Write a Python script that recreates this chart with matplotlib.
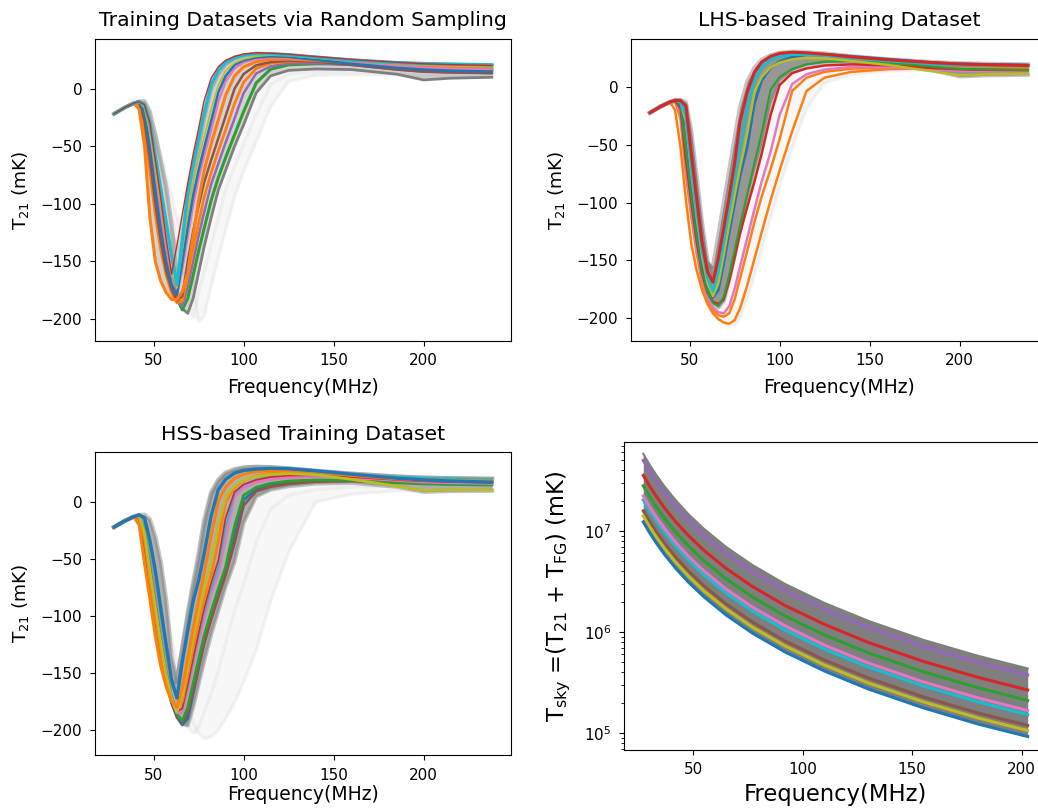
import numpy as np
import matplotlib.pyplot as plt

# frequency grid (MHz) shared by the three T21 panels
freq = [28, 34, 39, 42, 45, 48, 51, 54, 57, 60, 63, 66, 69, 72, 75, 78, 82, 86,
        90, 95, 100, 107, 115, 125, 140, 160, 185, 200, 215, 238]

# ---- Training Datasets via Random Sampling (mK) ----
rs_red = [-22, -16.5, -12.8, -11.3, -14, -30, -62, -95, -130, -161, -136, -109, -82, -57, -35, -11, 9, 19, 24.5, 28, 30, 31, 30.7, 29.8, 27.8, 25.3, 22.8, 21.5, 20.8, 20]
rs_cyan = [-22, -16.5, -12.8, -11.3, -13.8, -29.5, -58, -87, -116, -145, -170, -131, -91, -66, -44, -22, 3.3, 16, 22.5, 26.8, 29, 30.5, 30.3, 29.3, 27.3, 24.8, 22.5, 21.7, 21.2, 20.6]
rs_olive = [-22, -16.5, -12.8, -11.2, -17, -38, -69, -100, -132, -160, -173, -140, -108, -81, -61, -43, -18, 3, 15.3, 22.3, 25.5, 28, 29, 28.5, 26.5, 24, 21.5, 20.5, 19.8, 19.2]
rs_blue = [-22, -16.5, -12.8, -11.1, -22, -52, -88, -122, -150, -170, -179, -150, -120, -93, -71, -52, -28, -3, 10.8, 20.5, 24.5, 27, 28, 27.5, 25, 21.5, 18, 16.5, 15.5, 14.7]
rs_pink = [-22, -16.5, -12.8, -11.2, -20, -45, -78, -111, -142, -166, -179, -156, -128, -101, -78, -59, -36, -11, 6.2, 17.5, 22.7, 25.8, 27, 26.8, 25, 22.5, 19.5, 18, 17.3, 16.5]
rs_orange_a = [-22, -16.5, -12.2, -18, -50, -112, -150, -167, -177, -183, -183, -176, -160, -128, -97, -72, -48, -27, -6, 11, 18.8, 23.3, 25.3, 25.5, 24.5, 22.5, 20.5, 19.3, 18.5, 17.7]
rs_brown = [-22, -16.5, -12.8, -12, -28, -62, -100, -132, -158, -174, -184, -180, -150, -124, -102, -82, -62, -43, -24, 0, 12.6, 20.2, 23, 24, 23.3, 20.5, 16.5, 14.8, 14, 13.3]
rs_orange_b = [-22, -16.5, -12.8, -13, -35, -72, -110, -140, -162, -177, -186, -184, -162, -139, -117, -95, -73, -54, -36, -13, 5.4, 17.3, 22, 23.5, 23.3, 21.5, 19, 18.2, 17.6, 17]
rs_purple = [-22, -16.5, -12.8, -12, -22, -48, -82, -116, -146, -168, -182, -189, -172, -150, -128, -108, -83, -65, -47, -26, -4, 13.1, 19.3, 21.8, 22, 20.5, 16.5, 14.5, 14, 13.5]
rs_green = [-22, -16.5, -12.8, -11.5, -20, -44, -77, -110, -140, -165, -182, -192, -182, -162, -141, -122, -97, -77, -60, -40, -20, 4.9, 16.8, 20.6, 21.5, 21.3, 18.5, 16.5, 16.2, 16]
rs_gray = [-22, -16.5, -12.8, -11.2, -19, -42, -74, -106, -136, -162, -180, -191, -195, -182, -160, -138, -112, -88, -71, -50, -31.5, -3.7, 11, 15.8, 17, 16.5, 12.5, 7.5, 9, 9.8]
rs_band = [-22, -16.5, -12.8, -11.2, -11, -20, -40, -62, -85, -118, -168, -150, -108, -76, -50, -26, 0, 13, 21, 26, 28.5, 30, 29.7, 28.8, 26.8, 24.3, 22, 21, 20.6, 20.2]
rs_faint1 = [-22, -16.5, -12.8, -11.3, -13, -27.5, -47.7, -68.9, -90, -111, -132.6, -154, -175, -199, -177, -159.5, -136, -112, -88, -67.5, -48.3, -22.5, 3.4, 12.6, 14.7, 15, 13.5, 11, 11.5, 12]
rs_faint2 = [-22, -16.5, -12.8, -11.3, -11.5, -22, -39, -57, -75.3, -93.4, -111.5, -129.7, -148, -166, -202, -198, -172, -146.7, -123, -94, -72.2, -46.2, -15.7, 6.3, 11.5, 12, 11.8, 11, 11.2, 11.5]

# ---- LHS-based Training Dataset (mK) ----
lhs_red_l = [-22, -16.5, -12.8, -11.3, -11.5, -16, -58, -97, -135, -160, -169, -148, -122, -95, -66, -30, -4, 13, 22, 27, 29.5, 30.5, 30, 28.8, 26.5, 24, 21.5, 20.3, 19.7, 19]
lhs_cyan = [-22, -16.5, -12.8, -11.2, -12.5, -25, -70, -108, -142, -165, -177, -160, -134, -107, -80, -52, -18, 6, 17.5, 24, 27, 28.5, 28.5, 27.8, 25.5, 23, 20.5, 19.5, 19, 18.5]
lhs_olive = [-22, -16.5, -12.8, -11.2, -13, -30, -75, -113, -147, -170, -181, -170, -145, -119, -94, -70, -40, -4, 9, 17.5, 21.5, 24.3, 25.5, 25.3, 23, 19.5, 14, 10.5, 11.3, 12]
lhs_blue = [-22, -16.5, -12.8, -11.2, -14, -35, -80, -118, -151, -172, -182, -176, -152, -126, -101, -77, -52, -14, 6, 17, 22.5, 26.3, 28.5, 28.8, 27, 24.5, 21.5, 20.5, 20, 19.5]
lhs_green = [-22, -16.5, -12.8, -11.5, -16, -55, -95, -130, -160, -178, -187, -189.5, -182, -163, -142, -120, -93, -66, -40, -2, 9, 16, 20, 22.3, 23, 21.5, 18, 16, 15.5, 15]
lhs_red_r = [-22, -16.5, -12.8, -11.7, -18, -63, -100, -134, -162, -178, -186, -188, -184, -168, -148, -127, -104, -82, -58, -24, 2, 12.5, 16.5, 19, 20, 19.2, 16.8, 15.8, 15.3, 15]
lhs_pink = [-22, -16.5, -12.8, -12, -22, -70, -107, -140, -166, -182, -191, -195, -196, -190, -175, -156, -131, -106, -82, -56, -24, 3, 11.5, 15.5, 17.8, 17.5, 15.5, 14.5, 14.2, 14]
lhs_orange_m = [-22, -16.5, -12.8, -12.5, -27, -76, -112, -144, -169, -184, -193, -197.5, -199, -196, -184, -166, -142, -117, -95, -71, -45, -3, 8.5, 13.5, 16.3, 17, 16.2, 15.7, 15.6, 15.5]
lhs_orange_f = [-22, -16.5, -12.2, -20, -52, -98, -136, -159, -176, -188, -196, -201, -204, -205, -202, -192, -172, -149, -126, -98, -72, -38, -3, 8.5, 13.5, 15.8, 16.5, 16.5, 16.5, 16.5]
lhs_band_l = [-22, -16.5, -12.8, -11.2, -11, -15, -50, -90, -128, -158, -155, -128, -100, -72, -44, -17, 5, 17, 24, 28, 30, 31, 30.5, 29.5, 27, 24.5, 22, 21, 20.5, 20]
lhs_band_d = [-22, -16.5, -12.8, -11.2, -11, -13, -38, -78, -118, -150, -168, -160, -134, -107, -80, -52, -18, 6, 17.5, 24, 27, 28.5, 28.5, 27.8, 25.5, 23, 20.5, 19.5, 19, 18.5]
lhs_band_r = [-22, -16.5, -12.8, -11.5, -17, -60, -98, -132, -161, -178, -188, -191, -185, -167, -146, -124, -97, -72, -50, -14, 6, 15, 19.5, 21.5, 22, 20, 15, 9.5, 10.5, 11]
lhs_faint = [-22, -16.5, -12.8, -13, -45, -90, -130, -155, -173, -186, -195, -201, -205, -207, -206, -200, -184, -163, -141, -113, -86, -52, -18, 4, 11, 14, 15, 15, 15, 15]

# ---- HSS-based Training Dataset (mK) ----
hss_blue = [-22, -16.5, -12.8, -11.3, -14, -34, -60, -93, -125, -156, -172, -140, -113, -87, -69, -46, -12, 11, 20, 25.5, 27.8, 29, 29.6, 29.3, 27.5, 24.5, 21, 19.5, 18.5, 17.5]
hss_orange = [-22, -16.5, -12.7, -20, -54, -85, -118, -144, -162, -175, -180, -163, -137, -111, -86, -63, -30, 1, 13, 21, 24.5, 26.7, 27.8, 28, 26.5, 23.5, 20.5, 19.5, 19, 18.5]
hss_olive = [-22, -16.5, -12.8, -12, -27, -60, -92, -123, -151, -172, -184, -170, -145, -120, -98, -77, -53, -20, 4.5, 14.5, 19.5, 22.5, 24.3, 25, 24, 20, 14, 10.2, 10.8, 11]
hss_orange2 = [-22, -16.5, -12.8, -12.5, -32, -68, -100, -130, -156, -174, -183, -175, -152, -128, -106, -86, -64, -34, 0, 13, 19, 23, 25.5, 26.7, 27, 24.5, 21, 19.5, 18.7, 18]
hss_red = [-22, -16.5, -12.8, -12, -25, -55, -88, -119, -148, -170, -184, -181, -160, -137, -115, -94, -71, -51, -14, 9, 15.5, 19.5, 22, 23.3, 23.5, 22, 19.5, 18.3, 17.6, 17]
hss_pink = [-22, -16.5, -12.8, -12.5, -30, -64, -96, -126, -153, -173, -185, -185, -166, -144, -123, -103, -80, -63, -31, 5, 12.5, 17.5, 20, 21.5, 22.3, 21.5, 19, 17.6, 17, 16.4]
hss_cyan = [-22, -16.5, -12.8, -11.8, -22, -52, -85, -116, -146, -169, -183, -182, -162, -140, -118, -98, -76, -57, -22, 8, 15, 20, 22.5, 24, 25, 24, 22.5, 21.5, 21, 20.5]
hss_green = [-22, -16.5, -12.8, -13, -33, -68, -100, -129, -155, -174, -186, -192, -180, -159, -138, -118, -96, -76, -57, -21, 6, 13, 16.5, 18.5, 19.5, 19.2, 17, 16, 15.5, 15]
hss_brown = [-22, -16.5, -12.8, -13.5, -38, -72, -103, -132, -158, -176, -188, -194, -186, -166, -145, -125, -103, -83, -64, -36, -3, 9.5, 13.5, 16, 18, 18.5, 17.5, 16.8, 16.3, 16]
hss_blue_d = [-22, -16.5, -12.8, -13, -35, -70, -102, -131, -157, -176, -189, -195.5, -190, -168, -146, -124, -100, -79, -60, -30, 2, 11, 15, 17.5, 19, 19, 18, 17.3, 17, 16.7]
hss_band_d = [-22, -16.5, -12.8, -11.2, -11, -15, -30, -52, -85, -135, -158, -127, -97, -70, -45, -16, 9, 20, 26, 29, 30.5, 31, 30.7, 29.7, 27.5, 25, 22.5, 21.5, 21, 20.5]
hss_band_l = [-22, -16.5, -12.8, -11.3, -14, -38, -70, -102, -133, -163, -155, -128, -101, -75, -52, -22, 6, 18, 24.5, 28, 30, 31, 30.5, 29.5, 27.5, 25, 22.5, 21.5, 21, 20.5]
hss_band_r = [-22, -16.5, -12.8, -13, -33, -66, -98, -127, -153, -173, -186, -195, -196, -180, -160, -140, -116, -95, -74, -52, -18, 5, 11, 14, 16.3, 17, 13.5, 9, 9.7, 10]
hss_faint1 = [-22, -16.5, -12.8, -12, -22, -45, -70, -96, -121, -145, -166, -184, -197, -203, -198, -185, -168, -148, -124, -95, -72, -35, -6, 6, 11, 13.5, 14, 13.5, 13.3, 13]
hss_faint2 = [-22, -16.5, -12.8, -11.5, -16, -34, -53, -74, -96, -118, -140, -160, -178, -193, -203, -207.5, -206, -200, -190, -176, -158, -130, -87, -44, 0, 7, 10, 10, 10.5, 11]

# ---- sky temperature panel, values in units of 1e5 mK ----
sky_freq = [27.3, 30, 33, 37, 42, 48, 55, 65, 77, 92, 110, 130, 155, 180, 202.7]
sky_top = [580, 461, 365, 276, 203, 146, 105, 69.8, 46.2, 29.9, 19.4, 12.9, 8.38, 5.82, 4.36]
sky_purple = [500, 397, 315, 238, 175, 126, 90.5, 60.2, 39.8, 25.8, 16.7, 11.1, 7.23, 5.02, 3.76]
sky_red = [355, 282, 224, 169, 124, 89.6, 64.3, 42.7, 28.3, 18.3, 11.9, 7.88, 5.13, 3.56, 2.67]
sky_green = [280, 222, 176, 133, 97.9, 70.7, 50.7, 33.7, 22.3, 14.4, 9.35, 6.22, 4.05, 2.81, 2.1]
sky_pink = [222, 176, 140, 106, 77.6, 56.0, 40.2, 26.7, 17.7, 11.5, 7.41, 4.93, 3.21, 2.23, 1.67]
sky_cyan = [203, 161, 128, 96.7, 71.0, 51.2, 36.7, 24.4, 16.2, 10.5, 6.78, 4.51, 2.93, 2.04, 1.52]
sky_brown = [158, 126, 99.5, 75.3, 55.2, 39.9, 28.6, 19.0, 12.6, 8.15, 5.28, 3.51, 2.28, 1.58, 1.19]
sky_olive = [141, 112, 88.8, 67.2, 49.3, 35.6, 25.5, 17.0, 11.2, 7.28, 4.71, 3.13, 2.04, 1.41, 1.06]
sky_blue = [123, 97.7, 77.4, 58.6, 43.0, 31.0, 22.3, 14.8, 9.79, 6.35, 4.11, 2.73, 1.78, 1.23, 0.924]


def draw_t21(ax, colored, band, core, faint, band_alpha, xpad=7):
    x = np.array(freq)
    everything = [c for c, _, _ in colored] + band + faint
    # faint cloud of all training curves
    ax.fill_between(x, np.min(everything, axis=0), np.max(everything, axis=0),
                    color='0.5', alpha=0.06, lw=0)
    for y in faint:
        ax.plot(x, y, color='0.6', alpha=0.09, lw=2.5, solid_joinstyle='round')
    # dense part of the cloud
    ax.fill_between(x, np.min(core, axis=0), np.max(core, axis=0),
                    color='tab:gray', alpha=band_alpha, lw=0)
    for y in band:
        ax.plot(x, y, color='tab:gray', alpha=0.45, lw=3, solid_joinstyle='round')
    for y, col, lw in colored:
        ax.plot(x, y, color=col, lw=lw, solid_joinstyle='round', solid_capstyle='round')
    ax.set_xlim(17.5, 248.5)
    ax.set_xlabel('Frequency(MHz)', fontsize=13.5, labelpad=xpad)
    ax.set_ylabel(r'T$_{21}$ (mK)', fontsize=13.3, labelpad=7)
    ax.tick_params(labelsize=11, pad=5.5)


fig = plt.figure(figsize=(10.38, 8.09), dpi=100)
W, H = 1038, 809
ax1 = fig.add_axes([95 / W, 1 - 341 / H, 416 / W, 302 / H])
ax2 = fig.add_axes([631 / W, 1 - 341 / H, 416 / W, 302 / H])
ax3 = fig.add_axes([95 / W, 1 - 755 / H, 416 / W, 303 / H])
ax4 = fig.add_axes([624 / W, 1 - 750 / H, 423 / W, 308 / H])

rs_lines = [(rs_gray, 'tab:gray', 2.0), (rs_green, 'tab:green', 2.2), (rs_purple, 'tab:purple', 1.8),
            (rs_orange_b, 'tab:orange', 2.0), (rs_brown, 'tab:brown', 1.8), (rs_orange_a, 'tab:orange', 2.2),
            (rs_pink, 'tab:pink', 1.8), (rs_blue, 'tab:blue', 1.8), (rs_olive, 'tab:olive', 1.2),
            (rs_cyan, 'tab:cyan', 2.4), (rs_red, 'tab:red', 1.0)]
draw_t21(ax1, rs_lines, [rs_band], [c for c, _, _ in rs_lines] + [rs_band],
         [rs_faint1, rs_faint2], 0.3)
ax1.set_ylim(-219, 43)
ax1.set_title('Training Datasets via Random Sampling', fontsize=14.7, pad=9)

lhs_lines = [(lhs_orange_f, 'tab:orange', 1.8), (lhs_orange_m, 'tab:orange', 1.8), (lhs_pink, 'tab:pink', 1.8),
             (lhs_red_r, 'tab:red', 1.8), (lhs_green, 'tab:green', 1.5), (lhs_blue, 'tab:blue', 2.0),
             (lhs_olive, 'tab:olive', 1.8), (lhs_cyan, 'tab:cyan', 2.0), (lhs_red_l, 'tab:red', 2.2)]
draw_t21(ax2, lhs_lines, [lhs_band_l, lhs_band_d, lhs_band_r],
         [lhs_band_l, lhs_band_d, lhs_band_r, lhs_red_l, lhs_cyan, lhs_blue, lhs_olive, lhs_green],
         [lhs_faint], 0.8)
ax2.set_ylim(-220, 42)
ax2.set_title('LHS-based Training Dataset', fontsize=14.7, pad=9)

hss_lines = [(hss_blue_d, 'tab:blue', 2.0), (hss_brown, 'tab:brown', 2.0), (hss_green, 'tab:green', 2.0),
             (hss_pink, 'tab:pink', 2.0), (hss_cyan, 'tab:cyan', 1.2), (hss_red, 'tab:red', 1.2),
             (hss_orange2, 'tab:orange', 2.0), (hss_olive, 'tab:olive', 2.0), (hss_orange, 'tab:orange', 2.2),
             (hss_blue, 'tab:blue', 2.4)]
draw_t21(ax3, hss_lines, [hss_band_d, hss_band_l, hss_band_r],
         [c for c, _, _ in hss_lines] + [hss_band_d, hss_band_l, hss_band_r],
         [hss_faint1, hss_faint2], 0.6, xpad=2)
ax3.set_ylim(-222, 44)
ax3.set_title('HSS-based Training Dataset', fontsize=14.7, pad=9)

# sky temperature panel
fs = np.array(sky_freq)
unit = 1e5
ax4.fill_between(fs, np.array(sky_blue) * unit, np.array(sky_top) * unit, color='tab:gray', lw=0)
ax4.plot(fs, np.array(sky_top) * unit, color='tab:gray', lw=1.5)
for y, col in [(sky_purple, 'tab:purple'), (sky_red, 'tab:red'), (sky_green, 'tab:green'),
               (sky_cyan, 'tab:cyan'), (sky_pink, 'tab:pink'), (sky_brown, 'tab:brown'),
               (sky_olive, 'tab:olive'), (sky_blue, 'tab:blue')]:
    ax4.plot(fs, np.array(y) * unit, color=col, lw=2.2)
ax4.set_yscale('log')
ax4.set_xlim(18.5, 211.5)
ax4.set_ylim(6.8e4, 7.6e7)
ax4.set_xticks([50, 100, 150, 200])
ax4.set_xlabel('Frequency(MHz)', fontsize=16.3, labelpad=4)
ax4.set_ylabel(r'T$_{\mathrm{sky}}$ =(T$_{21}$ + T$_{\mathrm{FG}}$) (mK)', fontsize=16.3, labelpad=8)
ax4.tick_params(labelsize=11, pad=5.5)

fig.savefig('out.png', dpi=100)
